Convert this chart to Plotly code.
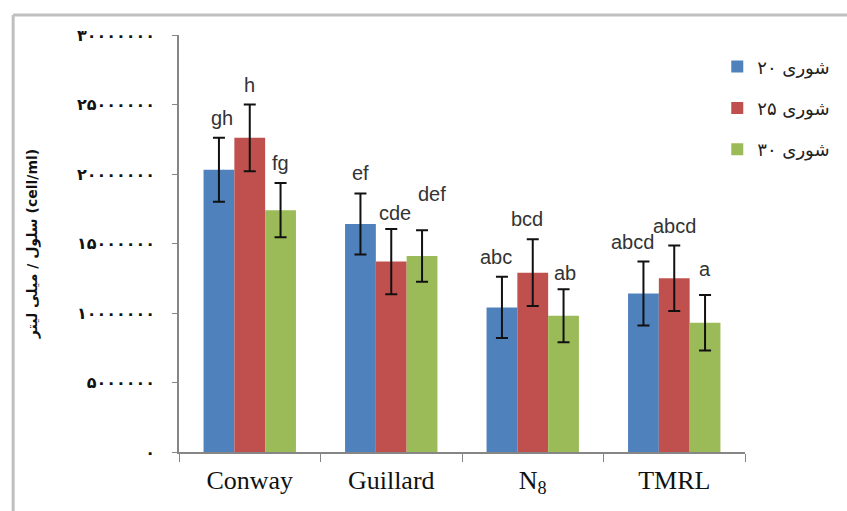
import plotly.graph_objects as go

categories = ["Conway", "Guillard", "N<sub>8</sub>", "TMRL"]
series_names = ["شوری ۲۰", "شوری ۲۵", "شوری ۳۰"]
values_20 = [20.3e6, 16.4e6, 10.4e6, 11.4e6]
values_25 = [22.6e6, 13.7e6, 12.9e6, 12.5e6]
values_30 = [17.4e6, 14.1e6, 9.8e6, 9.3e6]
err_20 = [2.3e6, 2.2e6, 2.2e6, 2.3e6]
err_25 = [2.4e6, 2.35e6, 2.4e6, 2.35e6]
err_30 = [1.95e6, 1.85e6, 1.9e6, 2.0e6]
letters_20 = ["gh", "ef", "abc", "abcd"]
letters_25 = ["h", "cde", "bcd", "abcd"]
letters_30 = ["fg", "def", "ab", "a"]
tick_values = [0, 5e6, 10e6, 15e6, 20e6, 25e6, 30e6]
tick_labels = ["۰", "۵۰۰۰۰۰۰", "۱۰۰۰۰۰۰۰", "۱۵۰۰۰۰۰۰", "۲۰۰۰۰۰۰۰", "۲۵۰۰۰۰۰۰", "۳۰۰۰۰۰۰۰"]
y_title = "سلول / میلی لیتر (cell/ml)"

colors = ["#4F81BD", "#C0504D", "#9BBB59"]
values = [values_20, values_25, values_30]
errors = [err_20, err_25, err_30]
letters = [letters_20, letters_25, letters_30]

fig = go.Figure()
for k in range(3):
    fig.add_trace(go.Bar(
        x=categories, y=values[k], name=series_names[k],
        marker=dict(color=colors[k], line=dict(width=0)),
        error_y=dict(type="data", array=errors[k], color="#111111", thickness=2, width=6),
        legendgroup=str(k),
    ))

bargap = 0.347
bw = (1 - bargap) / 3
# small per-label pixel adjustments (styling only)
label_dx = [[3, 0, -6, -11], [0, 4, -6, 0], [0, 10, 1, 0]]
label_dy = [[0, 0, 0, 0], [0, -4, 0, 0], [0, 16, -4, 6]]
for k in range(3):
    for i in range(len(categories)):
        fig.add_annotation(
            x=i + (k - 1) * bw, y=values[k][i] + errors[k][i],
            xref="x", yref="y", text=letters[k][i], showarrow=False,
            yanchor="bottom", yshift=7 + label_dy[k][i], xshift=label_dx[k][i],
            font=dict(family="Liberation Sans", size=20, color="#333333"),
        )

# outer frame lines (top and left)
fig.add_shape(type="line", xref="paper", yref="paper", x0=-0.293, x1=1.2, y0=1.048, y1=1.048,
              line=dict(color="#BFBFBF", width=3))
fig.add_shape(type="line", xref="paper", yref="paper", x0=-0.293, x1=-0.293, y0=1.048, y1=-0.2,
              line=dict(color="#BFBFBF", width=3))

fig.update_layout(
    width=847, height=511,
    margin=dict(l=179, r=98, t=35, b=59),
    paper_bgcolor="white", plot_bgcolor="white",
    barmode="group", bargap=bargap, bargroupgap=0,
    showlegend=True,
    legend=dict(x=0.951, y=0.968, xanchor="left", yanchor="top",
                traceorder="grouped", tracegroupgap=15,
                font=dict(family="DejaVu Sans", size=18, color="#222222"),
                bgcolor="rgba(0,0,0,0)"),
    xaxis=dict(showline=True, linecolor="#868686", linewidth=1.5,
               ticks="outside", ticklen=8, tickcolor="#868686", tickson="boundaries",
               ticklabelstandoff=4,
               tickfont=dict(family="Liberation Serif", size=26, color="#111111"),
               showgrid=False, zeroline=False),
    yaxis=dict(range=[0, 30e6], showline=True, linecolor="#868686", linewidth=1.5,
               ticks="outside", ticklen=5, tickcolor="#868686",
               tickvals=tick_values, ticktext=tick_labels, ticklabelstandoff=14,
               tickfont=dict(family="DejaVu Sans", size=16, color="#111111", weight="bold"),
               showgrid=False, zeroline=False,
               title=dict(text=y_title, standoff=36,
                          font=dict(family="DejaVu Sans", size=14, color="#111111", weight="bold"))),
)

fig.write_html("out.html")
